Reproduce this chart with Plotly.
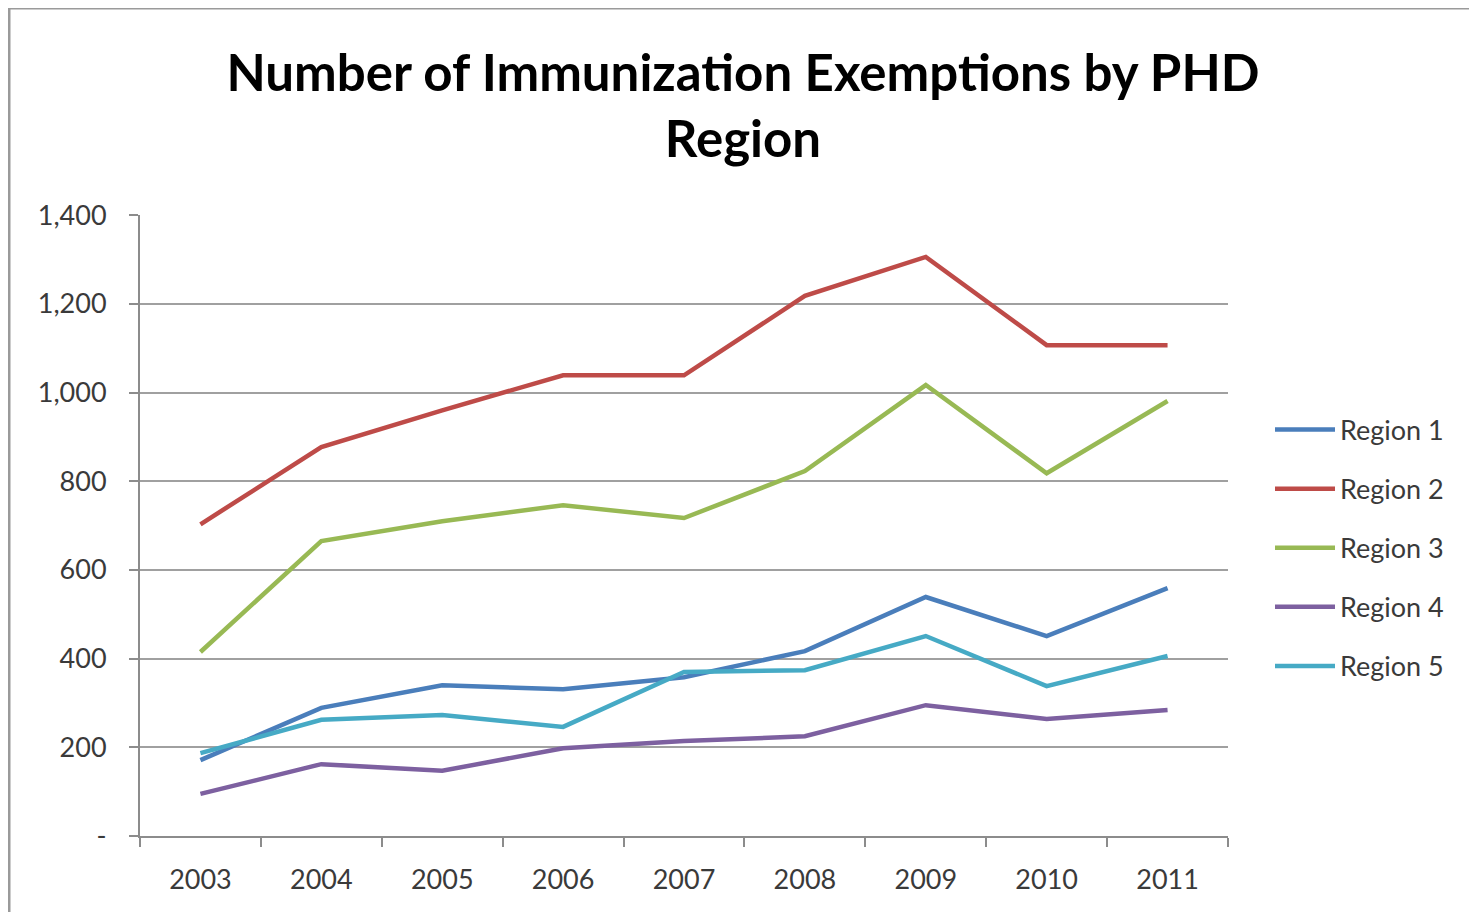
import plotly.graph_objects as go

years = ["2003", "2004", "2005", "2006", "2007", "2008", "2009", "2010", "2011"]
region1 = [171, 289, 340, 331, 358, 417, 539, 451, 559]
region2 = [703, 877, 960, 1039, 1039, 1218, 1306, 1107, 1107]
region3 = [415, 665, 710, 746, 717, 823, 1017, 818, 981]
region4 = [95, 162, 147, 198, 214, 225, 295, 264, 284]
region5 = [187, 262, 273, 246, 370, 374, 451, 338, 406]
names = ["Region 1", "Region 2", "Region 3", "Region 4", "Region 5"]
colors = ["#4A7EBB", "#BE4B48", "#98B954", "#7D60A0", "#46AAC5"]
ytick_vals = [0, 200, 400, 600, 800, 1000, 1200, 1400]
ytick_text = ["-", "200", "400", "600", "800", "1,000", "1,200", "1,400"]

FONT = "Lato"
fig = go.Figure()
for i, (n, s) in enumerate(zip(names, [region1, region2, region3, region4, region5])):
    fig.add_trace(go.Scatter(x=years, y=s, name=n, mode="lines",
                             line=dict(color=colors[i], width=4.5),
                             legendgroup=n))

W, H = 1477, 912
L, R, T, B = 132, 257, 207, 84
pw = W - L - R
ph = H - T - B

fig.update_layout(
    width=W, height=H,
    margin=dict(l=L, r=R, t=T, b=B),
    paper_bgcolor="white", plot_bgcolor="white",
    font=dict(family=FONT, color="#3A3A3A", size=27),
    title=dict(text="<b>Number of Immunization Exemptions by PHD<br>Region</b>",
               x=735 / W, xanchor="center", y=1 - 83 / H, yanchor="middle",
               font=dict(family=FONT, size=51, color="#000000")),
    showlegend=True,
    legend=dict(x=(1267 - L - 5) / pw, xanchor="left", y=(828 - 540) / ph, yanchor="middle",
                font=dict(family=FONT, size=27, color="#3A3A3A"),
                tracegroupgap=21, itemwidth=60, bgcolor="rgba(0,0,0,0)"),
    xaxis=dict(type="category", range=[-0.5, 8.5], tickson="boundaries",
               ticks="outside", ticklen=9, tickcolor="#8C8C8C", tickwidth=2,
               showline=True, linecolor="#8C8C8C", linewidth=2,
               showgrid=False, ticklabelstandoff=19,
               tickfont=dict(family=FONT, size=27, color="#3A3A3A")),
    yaxis=dict(range=[0, 1400.5], tickvals=ytick_vals, ticktext=ytick_text,
               ticks="outside", ticklen=9, tickcolor="#8C8C8C", tickwidth=2,
               showline=True, linecolor="#8C8C8C", linewidth=2,
               showgrid=True, gridcolor="#A0A0A0", gridwidth=2,
               zeroline=False, ticklabelstandoff=17,
               tickfont=dict(family=FONT, size=27, color="#3A3A3A")),
)

# outer chart border (top-left visible)
fig.add_shape(type="rect", xref="paper", yref="paper",
              x0=(1 - L) / pw, x1=(W + 20 - L) / pw,
              y0=(H - B - (H + 20)) / ph, y1=(H - B - 0) / ph,
              line=dict(color="#9A9A9A", width=3), fillcolor="rgba(0,0,0,0)",
              layer="below")

fig.write_html("out.html")
